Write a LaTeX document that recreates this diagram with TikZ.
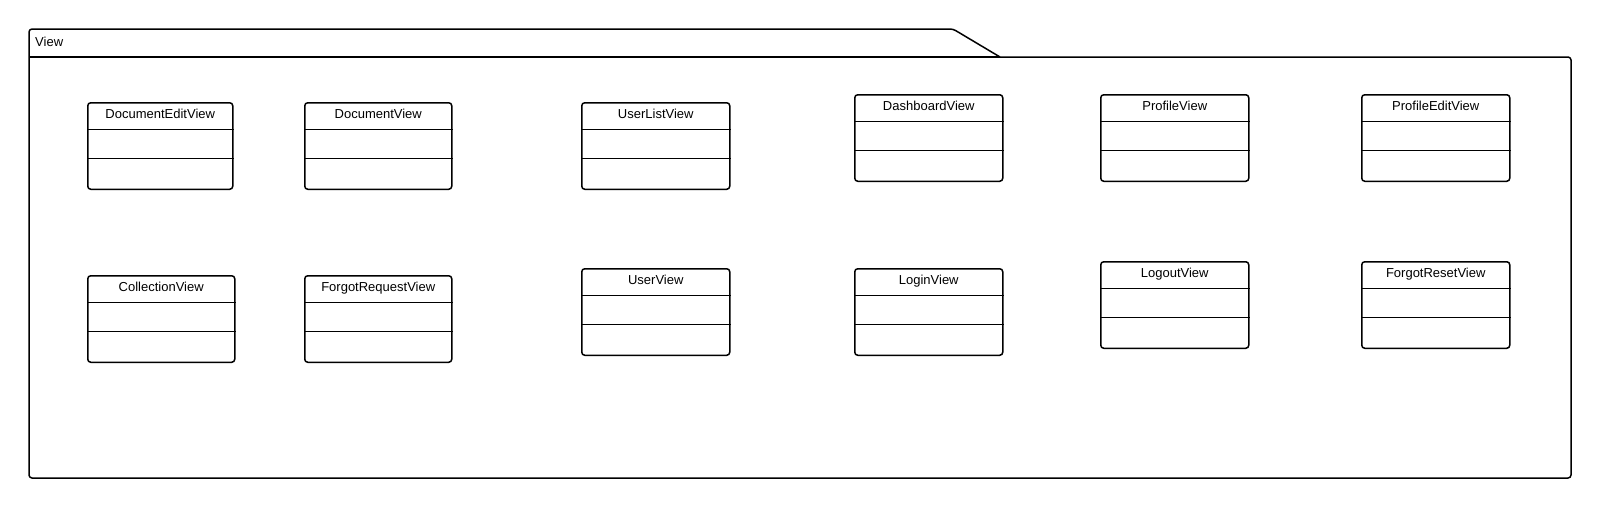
\documentclass[tikz,border=0pt]{standalone}
\usepackage{fontspec}
\setmainfont{Liberation Sans}
\usetikzlibrary{calc}
\tikzset{
  pkg/.style={draw=black, line width=1.5pt, line join=round},
  cls/.style={draw=black, line width=1.5pt, rounded corners=3pt, fill=white, inner sep=0pt, minimum height=86.5pt},
  divline/.style={draw=black, line width=0.9pt},
  title/.style={anchor=base, inner sep=0pt, font=\fontsize{13}{15}\selectfont},
}
\newcommand{\umlbox}[5]{%
  \node[cls, minimum width=#4pt, anchor=north west] (#1) at (#2,#3) {};
  \node[title] (#1-t) at ($(#1.north)+(0,16)$) {#5};
  \draw[divline] ($(#1.north west)+(0,27)$) -- ($(#1.north east)+(0,27)$);
  \draw[divline] ($(#1.north west)+(0,56.5)$) -- ($(#1.north east)+(0,56.5)$);
}
\begin{document}
\begin{tikzpicture}[x=1pt,y=-1pt]
\useasboundingbox (0,0) rectangle (1600,507);
% package
\draw[pkg] (29,57) -- (1000,57);
\draw[pkg, rounded corners=3pt] (1000,57) -- (953,29) -- (29,29) -- (29,478) -- (1571,478) -- (1571,57) -- (1000,57);
\node[title, anchor=base west] (pkglabel) at (35,46) {View};
% classes
\umlbox{docedit}{87}{102}{145}{DocumentEditView}
\umlbox{doc}{304}{102}{147}{DocumentView}
\umlbox{coll}{87}{275}{147}{CollectionView}
\umlbox{forgotreq}{304}{275}{147}{ForgotRequestView}
\umlbox{userlist}{581}{102}{148}{UserListView}
\umlbox{user}{581}{268}{148}{UserView}
\umlbox{dash}{854}{94}{148}{DashboardView}
\umlbox{login}{854}{268}{148}{LoginView}
\umlbox{profile}{1100}{94}{148}{ProfileView}
\umlbox{logout}{1100}{261}{148}{LogoutView}
\umlbox{profileedit}{1361}{94}{148}{ProfileEditView}
\umlbox{forgotreset}{1361}{261}{148}{ForgotResetView}
\end{tikzpicture}
\end{document}
